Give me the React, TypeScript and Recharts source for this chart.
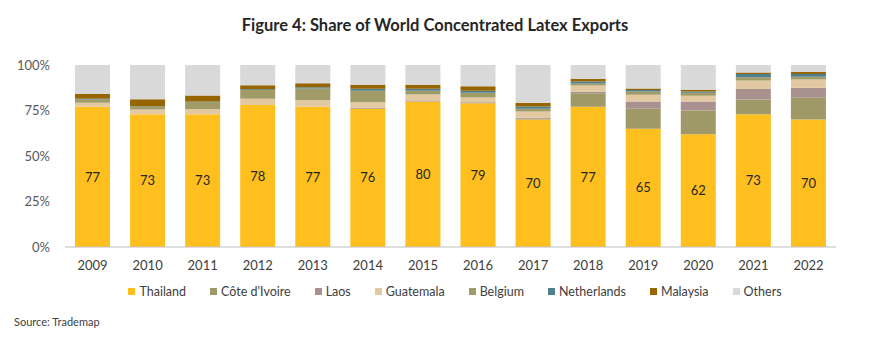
import React from "react";
import { BarChart, Bar, XAxis, YAxis, LabelList } from "recharts";

const years = ["2009","2010","2011","2012","2013","2014","2015","2016","2017","2018","2019","2020","2021","2022"];
const thailand = [77, 73, 73, 78, 77, 76, 80, 79, 70, 77, 65, 62, 73, 70];
const coteDIvoire = [0, 0, 0, 0, 0, 0, 0, 0, 0.5, 7.5, 11, 13, 8, 12];
const laos = [0, 0, 0, 0, 0, 0.5, 0.5, 0.5, 0.5, 0.8, 4, 5, 5.8, 5.5];
const guatemala = [2.2, 2.5, 2.7, 3.5, 3.7, 3.1, 3.3, 2.7, 3.5, 3.5, 3.7, 3.1, 4.7, 4.6];
const belgium = [1.8, 1.6, 4.0, 4.7, 6.4, 6.2, 2.0, 2.6, 1.5, 1.1, 1.8, 1.6, 1.8, 1.5];
const netherlands = [0.4, 0.3, 0.3, 0.5, 0.7, 1.1, 1.1, 1.1, 1.2, 1.1, 0.8, 0.8, 1.8, 1.4];
const malaysia = [2.6, 3.8, 3.3, 2.2, 2.2, 2.2, 2.2, 2.4, 2.0, 1.3, 0.8, 0.9, 0.8, 1.1];
const yTicks = [0, 25, 50, 75, 100];

const seriesNames = ["Thailand", "Côte d'Ivoire", "Laos", "Guatemala", "Belgium", "Netherlands", "Malaysia", "Others"];
const seriesKeys = ["thailand", "cote", "laos", "guatemala", "belgium", "netherlands", "malaysia", "others"];
const colors = ["#FFC01F", "#9E9966", "#A8918E", "#E3C9A1", "#A09B67", "#4F7F8C", "#966500", "#D9D9D9"];

const data = years.map((y, i) => {
  const known = thailand[i] + coteDIvoire[i] + laos[i] + guatemala[i] + belgium[i] + netherlands[i] + malaysia[i];
  return {
    year: y,
    thailand: thailand[i],
    cote: coteDIvoire[i],
    laos: laos[i],
    guatemala: guatemala[i],
    belgium: belgium[i],
    netherlands: netherlands[i],
    malaysia: malaysia[i],
    others: Math.max(0, 100 - known),
  };
});

const FONT = "Lato, 'Open Sans', sans-serif";

export default function App() {
  return (
    <div style={{ position: "absolute", left: 0, top: 0, width: 870, height: 343, background: "#fff", fontFamily: FONT }}>
      <div style={{ position: "absolute", top: 15, left: 0, width: 870, textAlign: "center", fontWeight: 700, fontSize: 16.5, color: "#262626" }}>
        Figure 4: Share of World Concentrated Latex Exports
      </div>
      <BarChart
        width={870}
        height={343}
        data={data}
        margin={{ top: 65, right: 34, bottom: 66, left: 0 }}
        barSize={35}
      >
        <YAxis
          domain={[0, 100]}
          ticks={yTicks}
          tickFormatter={(v) => `${v}%`}
          axisLine={false}
          tickLine={false}
          tickSize={0}
          tickMargin={15}
          width={65}
          tick={{ fill: "#595959", fontSize: 13, fontFamily: FONT }}
          interval={0}
        />
        <XAxis
          dataKey="year"
          axisLine={{ stroke: "#BFBFBF" }}
          tickLine={false}
          tickSize={0}
          tickMargin={14}
          height={30}
          interval={0}
          tick={{ fill: "#404040", fontSize: 13, fontFamily: FONT }}
        />
        {seriesKeys.map((k, idx) => (
          <Bar key={k} dataKey={k} name={seriesNames[idx]} stackId="a" fill={colors[idx]} isAnimationActive={false}>
            {k === "thailand" ? (
              <LabelList dataKey="thailand" position="center" fill="#262626" fontSize={13} fontFamily={FONT} />
            ) : null}
          </Bar>
        ))}
      </BarChart>
      <div style={{ position: "absolute", top: 284, left: 20, width: 870, display: "flex", justifyContent: "center", gap: 24, fontSize: 12.5, color: "#404040" }}>
        {seriesNames.map((n, idx) => (
          <div key={n} style={{ display: "flex", alignItems: "center" }}>
            <span style={{ display: "inline-block", width: 7, height: 7, background: colors[idx], marginRight: 4 }} />
            <span>{n}</span>
          </div>
        ))}
      </div>
      <div style={{ position: "absolute", top: 315, left: 14, fontSize: 11, color: "#404040" }}>Source: Trademap</div>
    </div>
  );
}
